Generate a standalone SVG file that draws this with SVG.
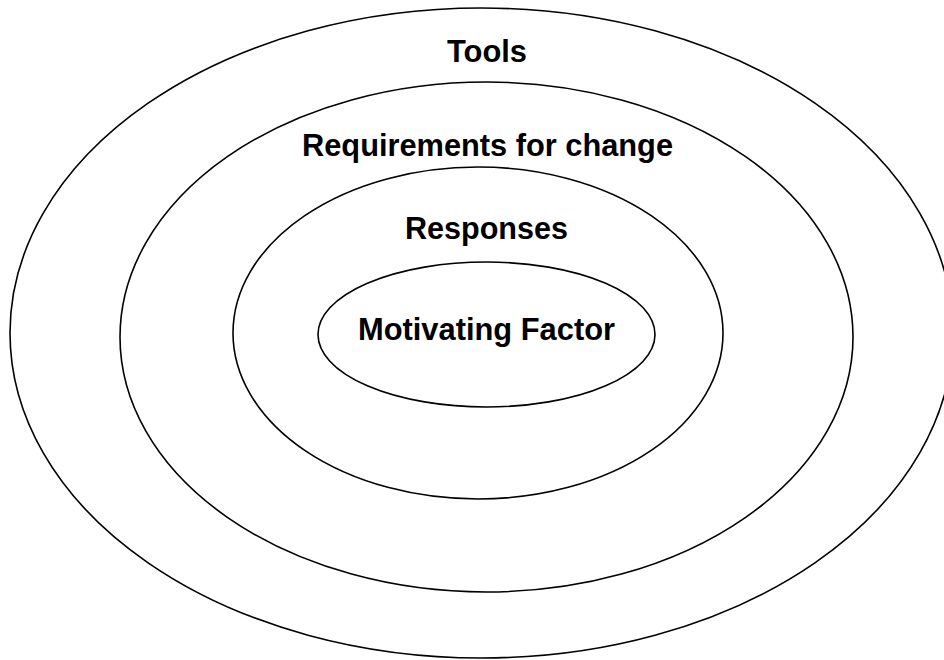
<svg xmlns="http://www.w3.org/2000/svg" width="944" height="660" viewBox="0 0 944 660">
<style>
.ring{fill:none;stroke:#000;stroke-width:1.6}
.lbl{font-family:"Liberation Sans",Arial,sans-serif;font-weight:bold;font-size:32px;fill:#000;text-anchor:middle}
</style>
<rect width="944" height="660" fill="#fff"/>
<g id="tools">
<ellipse class="ring" cx="481.5" cy="333" rx="471.5" ry="325"/>
<text class="lbl" x="487" y="62" textLength="80" lengthAdjust="spacingAndGlyphs">Tools</text>
</g>
<g id="requirements">
<ellipse class="ring" cx="486.5" cy="337" rx="366.5" ry="255"/>
<text class="lbl" x="487.5" y="156" textLength="371" lengthAdjust="spacingAndGlyphs">Requirements for change</text>
</g>
<g id="responses">
<ellipse class="ring" cx="478" cy="333" rx="245" ry="166"/>
<text class="lbl" x="486.5" y="239" textLength="163" lengthAdjust="spacingAndGlyphs">Responses</text>
</g>
<g id="motivating">
<ellipse class="ring" cx="486.5" cy="334.5" rx="168.5" ry="72.5"/>
<text class="lbl" x="486.5" y="340" textLength="257" lengthAdjust="spacingAndGlyphs">Motivating Factor</text>
</g>
<g id="connectors"/>
</svg>
